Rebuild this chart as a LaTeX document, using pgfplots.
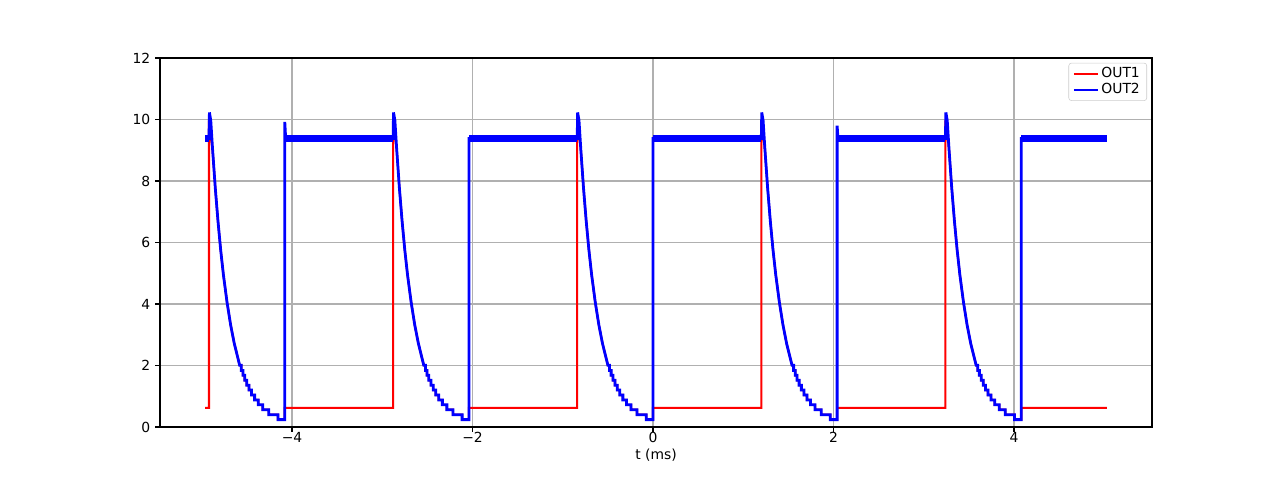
\documentclass[border=0pt]{standalone}
\usepackage{pgfplots}
\pgfplotsset{compat=1.18}
\usepackage{fontspec}
\setmainfont{DejaVu Sans}
\definecolor{gridc}{HTML}{B0B0B0}
\definecolor{legc}{HTML}{CCCCCC}
\begin{document}
\begin{tikzpicture}
\path[use as bounding box] (-115.2pt,-38.16pt) rectangle (806.4pt,307.44pt);
\begin{axis}[
  scale only axis,
  width=714.24pt, height=265.68pt,
  xmin=-5.4626, xmax=5.529, ymin=0, ymax=12,
  xtick={-4,-2,0,2,4}, xticklabels={−4,−2,0,2,4},
  ytick={0,2,4,6,8,10,12}, yticklabels={0,2,4,6,8,10,12},
  tick pos=left, tick align=outside,
  major tick length=3.5pt,
  every tick/.style={black, line width=0.8pt},
  axis line style={line width=0.8pt},
  grid=major,
  major grid style={gridc, line width=0.8pt},
  tick label style={font=\fontsize{10}{12}\selectfont},
  xticklabel style={yshift=3.5pt},
  xlabel={t (ms)},
  xlabel style={font=\fontsize{10}{12}\selectfont, yshift=2.5pt},
  legend style={at={(rel axis cs:0.995,0.987)}, anchor=north east,
    draw=legc, rounded corners=2pt, font=\fontsize{10}{12}\selectfont,
    nodes={inner ysep=1.3pt}},
  legend cell align=left,
  legend image code/.code={\draw[#1] (0pt,0pt) -- (17pt,0pt);},
]
\addlegendimage{red, line width=1.5pt}
\addlegendentry{OUT1}
\addlegendimage{blue, line width=1.5pt}
\addlegendentry{OUT2}

% OUT1
\addplot[forget plot, red, line width=1.5pt] coordinates {
(-4.963,0.62)(-4.92,0.62)
(-4.92,9.97)(-4.88,9.03)(-4.85,7.77)(-4.82,6.69)(-4.79,5.75)(-4.76,4.95)(-4.72,4.06)(-4.68,3.32)(-4.64,2.72)(-4.58,2.01)
(-4.562,2.01)(-4.562,1.84)(-4.544,1.84)(-4.544,1.68)(-4.524,1.68)(-4.524,1.52)(-4.501,1.52)(-4.501,1.36)(-4.476,1.36)(-4.476,1.20)(-4.448,1.20)(-4.448,1.04)(-4.414,1.04)(-4.414,0.88)(-4.374,0.88)(-4.374,0.72)(-4.324,0.72)(-4.324,0.56)(-4.257,0.56)(-4.257,0.40)(-4.155,0.40)(-4.155,0.24)(-4.08,0.24)
(-4.08,0.62)(-2.88,0.62)
(-2.88,9.97)(-2.84,9.03)(-2.81,7.77)(-2.78,6.69)(-2.75,5.75)(-2.72,4.95)(-2.68,4.06)(-2.64,3.32)(-2.60,2.72)(-2.54,2.01)
(-2.522,2.01)(-2.522,1.84)(-2.504,1.84)(-2.504,1.68)(-2.484,1.68)(-2.484,1.52)(-2.461,1.52)(-2.461,1.36)(-2.436,1.36)(-2.436,1.20)(-2.408,1.20)(-2.408,1.04)(-2.374,1.04)(-2.374,0.88)(-2.334,0.88)(-2.334,0.72)(-2.284,0.72)(-2.284,0.56)(-2.217,0.56)(-2.217,0.40)(-2.115,0.40)(-2.115,0.24)(-2.04,0.24)
(-2.04,0.62)(-0.84,0.62)
(-0.84,9.97)(-0.80,9.03)(-0.77,7.77)(-0.74,6.69)(-0.71,5.75)(-0.68,4.95)(-0.64,4.06)(-0.60,3.32)(-0.56,2.72)(-0.50,2.01)
(-0.482,2.01)(-0.482,1.84)(-0.464,1.84)(-0.464,1.68)(-0.444,1.68)(-0.444,1.52)(-0.421,1.52)(-0.421,1.36)(-0.396,1.36)(-0.396,1.20)(-0.368,1.20)(-0.368,1.04)(-0.334,1.04)(-0.334,0.88)(-0.294,0.88)(-0.294,0.72)(-0.244,0.72)(-0.244,0.56)(-0.177,0.56)(-0.177,0.40)(-0.075,0.40)(-0.075,0.24)(0.00,0.24)
(0.00,0.62)(1.20,0.62)
(1.20,9.97)(1.24,9.03)(1.27,7.77)(1.30,6.69)(1.33,5.75)(1.36,4.95)(1.40,4.06)(1.44,3.32)(1.48,2.72)(1.54,2.01)
(1.558,2.01)(1.558,1.84)(1.576,1.84)(1.576,1.68)(1.596,1.68)(1.596,1.52)(1.619,1.52)(1.619,1.36)(1.644,1.36)(1.644,1.20)(1.672,1.20)(1.672,1.04)(1.706,1.04)(1.706,0.88)(1.746,0.88)(1.746,0.72)(1.796,0.72)(1.796,0.56)(1.863,0.56)(1.863,0.40)(1.965,0.40)(1.965,0.24)(2.04,0.24)
(2.04,0.62)(3.24,0.62)
(3.24,9.97)(3.28,9.03)(3.31,7.77)(3.34,6.69)(3.37,5.75)(3.40,4.95)(3.44,4.06)(3.48,3.32)(3.52,2.72)(3.58,2.01)
(3.598,2.01)(3.598,1.84)(3.616,1.84)(3.616,1.68)(3.636,1.68)(3.636,1.52)(3.659,1.52)(3.659,1.36)(3.684,1.36)(3.684,1.20)(3.712,1.20)(3.712,1.04)(3.746,1.04)(3.746,0.88)(3.786,0.88)(3.786,0.72)(3.836,0.72)(3.836,0.56)(3.903,0.56)(3.903,0.40)(4.005,0.40)(4.005,0.24)(4.08,0.24)
(4.08,0.62)(5.03,0.62)
};

% OUT2
\addplot[forget plot, blue, line width=2pt] coordinates {
(-4.963,9.38)
(-4.92,9.38)(-4.915,10.23)(-4.90,9.97)(-4.88,9.03)(-4.85,7.77)(-4.82,6.69)(-4.79,5.75)(-4.76,4.95)(-4.72,4.06)(-4.68,3.32)(-4.64,2.72)(-4.58,2.01)
(-4.562,2.01)(-4.562,1.84)(-4.544,1.84)(-4.544,1.68)(-4.524,1.68)(-4.524,1.52)(-4.501,1.52)(-4.501,1.36)(-4.476,1.36)(-4.476,1.20)(-4.448,1.20)(-4.448,1.04)(-4.414,1.04)(-4.414,0.88)(-4.374,0.88)(-4.374,0.72)(-4.324,0.72)(-4.324,0.56)(-4.257,0.56)(-4.257,0.40)(-4.155,0.40)(-4.155,0.24)(-4.08,0.24)
(-4.08,9.92)(-4.07,9.38)
(-2.88,9.38)(-2.875,10.23)(-2.86,9.97)(-2.84,9.03)(-2.81,7.77)(-2.78,6.69)(-2.75,5.75)(-2.72,4.95)(-2.68,4.06)(-2.64,3.32)(-2.60,2.72)(-2.54,2.01)
(-2.522,2.01)(-2.522,1.84)(-2.504,1.84)(-2.504,1.68)(-2.484,1.68)(-2.484,1.52)(-2.461,1.52)(-2.461,1.36)(-2.436,1.36)(-2.436,1.20)(-2.408,1.20)(-2.408,1.04)(-2.374,1.04)(-2.374,0.88)(-2.334,0.88)(-2.334,0.72)(-2.284,0.72)(-2.284,0.56)(-2.217,0.56)(-2.217,0.40)(-2.115,0.40)(-2.115,0.24)(-2.04,0.24)
(-2.04,9.38)
(-0.84,9.38)(-0.835,10.23)(-0.82,9.97)(-0.80,9.03)(-0.77,7.77)(-0.74,6.69)(-0.71,5.75)(-0.68,4.95)(-0.64,4.06)(-0.60,3.32)(-0.56,2.72)(-0.50,2.01)
(-0.482,2.01)(-0.482,1.84)(-0.464,1.84)(-0.464,1.68)(-0.444,1.68)(-0.444,1.52)(-0.421,1.52)(-0.421,1.36)(-0.396,1.36)(-0.396,1.20)(-0.368,1.20)(-0.368,1.04)(-0.334,1.04)(-0.334,0.88)(-0.294,0.88)(-0.294,0.72)(-0.244,0.72)(-0.244,0.56)(-0.177,0.56)(-0.177,0.40)(-0.075,0.40)(-0.075,0.24)(0.00,0.24)
(0.00,9.38)
(1.20,9.38)(1.205,10.23)(1.22,9.97)(1.24,9.03)(1.27,7.77)(1.30,6.69)(1.33,5.75)(1.36,4.95)(1.40,4.06)(1.44,3.32)(1.48,2.72)(1.54,2.01)
(1.558,2.01)(1.558,1.84)(1.576,1.84)(1.576,1.68)(1.596,1.68)(1.596,1.52)(1.619,1.52)(1.619,1.36)(1.644,1.36)(1.644,1.20)(1.672,1.20)(1.672,1.04)(1.706,1.04)(1.706,0.88)(1.746,0.88)(1.746,0.72)(1.796,0.72)(1.796,0.56)(1.863,0.56)(1.863,0.40)(1.965,0.40)(1.965,0.24)(2.04,0.24)
(2.04,9.80)(2.05,9.38)
(3.24,9.38)(3.245,10.23)(3.26,9.97)(3.28,9.03)(3.31,7.77)(3.34,6.69)(3.37,5.75)(3.40,4.95)(3.44,4.06)(3.48,3.32)(3.52,2.72)(3.58,2.01)
(3.598,2.01)(3.598,1.84)(3.616,1.84)(3.616,1.68)(3.636,1.68)(3.636,1.52)(3.659,1.52)(3.659,1.36)(3.684,1.36)(3.684,1.20)(3.712,1.20)(3.712,1.04)(3.746,1.04)(3.746,0.88)(3.786,0.88)(3.786,0.72)(3.836,0.72)(3.836,0.56)(3.903,0.56)(3.903,0.40)(4.005,0.40)(4.005,0.24)(4.08,0.24)
(4.08,9.38)(5.03,9.38)
};

% OUT2 high-level noise band
\addplot[forget plot, blue, line width=4.8pt, line cap=butt, unbounded coords=jump] coordinates {
(-4.963,9.385)(-4.92,9.385)(-4.92,nan)
(-4.08,9.385)(-2.88,9.385)(-2.88,nan)
(-2.04,9.385)(-0.84,9.385)(-0.84,nan)
(0.00,9.385)(1.20,9.385)(1.20,nan)
(2.04,9.385)(3.24,9.385)(3.24,nan)
(4.08,9.385)(5.03,9.385)
};
\end{axis}
\end{tikzpicture}
\end{document}
